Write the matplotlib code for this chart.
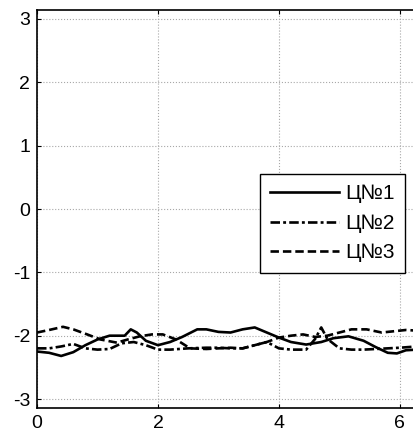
import numpy as np
import matplotlib
matplotlib.use('Agg')
import matplotlib.pyplot as plt

plt.rcParams['font.family'] = ['Liberation Sans', 'DejaVu Sans']
plt.rcParams['axes.unicode_minus'] = False

# Werte
x1 = [0.0, 0.2, 0.4, 0.6, 0.8, 1.0, 1.2, 1.45, 1.55, 1.65, 1.8, 2.0, 2.2, 2.4, 2.65,
      2.8, 3.0, 3.2, 3.4, 3.6, 3.8, 4.0, 4.2, 4.45, 4.7, 4.9, 5.15, 5.4, 5.6, 5.8, 5.95, 6.1, 6.28]
y1 = [-2.25, -2.27, -2.32, -2.26, -2.15, -2.06, -2.0, -2.0, -1.9, -1.95, -2.08, -2.15, -2.1, -2.02, -1.9,
      -1.9, -1.94, -1.95, -1.9, -1.87, -1.95, -2.03, -2.1, -2.14, -2.1, -2.04, -2.01, -2.08, -2.18, -2.27, -2.28, -2.23, -2.22]

x2 = [0.0, 0.2, 0.4, 0.6, 0.8, 1.0, 1.2, 1.4, 1.6, 1.8, 2.0, 2.2, 2.5, 2.8, 3.0, 3.2, 3.4,
      3.6, 3.8, 4.0, 4.2, 4.45, 4.6, 4.7, 4.8, 5.0, 5.2, 5.4, 5.6, 5.8, 6.0, 6.28]
y2 = [-2.2, -2.2, -2.17, -2.13, -2.2, -2.22, -2.21, -2.12, -2.1, -2.15, -2.22, -2.22, -2.2, -2.19, -2.19, -2.2, -2.2,
      -2.15, -2.1, -2.2, -2.22, -2.22, -2.05, -1.87, -2.05, -2.2, -2.22, -2.22, -2.21, -2.2, -2.19, -2.17]

x3 = [0.0, 0.2, 0.43, 0.6, 0.83, 1.05, 1.32, 1.5, 1.7, 1.9, 2.08, 2.3, 2.53, 2.8, 3.0, 3.2,
      3.4, 3.6, 3.8, 4.0, 4.2, 4.4, 4.6, 4.8, 5.0, 5.2, 5.45, 5.7, 5.9, 6.1, 6.28]
y3 = [-1.95, -1.91, -1.86, -1.9, -1.98, -2.06, -2.11, -2.06, -2.01, -1.98, -1.98, -2.06, -2.2, -2.21, -2.2, -2.19,
      -2.2, -2.15, -2.1, -2.03, -2.0, -1.98, -2.02, -2.0, -1.95, -1.9, -1.9, -1.95, -1.93, -1.91, -1.92]

labels = ['Ц№1', 'Ц№2', 'Ц№3']

fig = plt.figure(figsize=(4.14, 4.34), dpi=100)
ax = fig.add_axes([37/414, 26/434, 380/414, 398/434])

ax.plot(x1, y1, 'k-', lw=1.9, label=labels[0])
ax.plot(x2, y2, 'k', lw=1.9, dashes=(3.6, 1.2, 1.1, 1.2), label=labels[1])
ax.plot(x3, y3, 'k', lw=1.9, dashes=(3.2, 1.5), label=labels[2])

ax.set_xlim(0, 2*np.pi)
ax.set_ylim(-np.pi, np.pi)
ax.set_xticks([0, 2, 4, 6])
ax.set_yticks([-3, -2, -1, 0, 1, 2, 3])
ax.grid(True, color='#a8a8a8', linestyle=':', linewidth=0.8)
ax.tick_params(direction='in', length=3, width=0.8, labelsize=14, colors='k',
               top=True, right=True, pad=5)
for s in ax.spines.values():
    s.set_linewidth(1.2)

leg = ax.legend(loc='upper right', bbox_to_anchor=(0.968, 0.588), fontsize=15,
                handlelength=3.3, handletextpad=0.3, labelspacing=0.5,
                borderpad=0.5, borderaxespad=0, fancybox=False, framealpha=1,
                edgecolor='k')
leg.get_frame().set_linewidth(1.0)

plt.savefig('out.png', dpi=100)
